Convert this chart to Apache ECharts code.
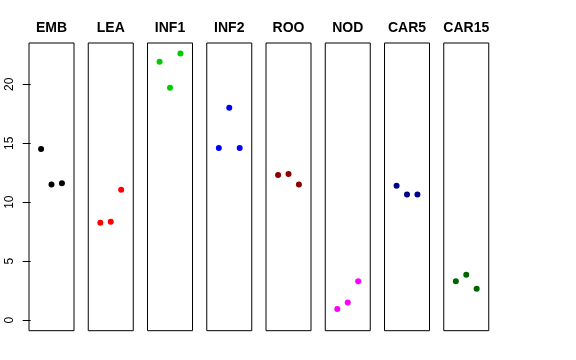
<!DOCTYPE html>
<html><head><meta charset="utf-8">
<script src="https://cdn.jsdelivr.net/npm/echarts@6/dist/echarts.min.js"></script>
<style>html,body{margin:0;padding:0;background:#fff}#c{width:576px;height:360px}</style>
</head><body><div id="c"></div>
<script>
const categories = ['EMB','LEA','INF1','INF2','ROO','NOD','CAR5','CAR15'];
const replicate = [1, 2, 3];
const EMB = [14.5, 11.5, 11.6];
const LEA = [8.25, 8.35, 11.05];
const INF1 = [21.9, 19.7, 22.6];
const INF2 = [14.6, 18.0, 14.6];
const ROO = [12.3, 12.4, 11.5];
const NOD = [0.95, 1.5, 3.3];
const CAR5 = [11.4, 10.65, 10.65];
const CAR15 = [3.3, 3.85, 2.65];
const yTicks = [0, 5, 10, 15, 20];
const colors = ['#000000','#FF0000','#00CD00','#0000FF','#8B0000','#FF00FF','#00008B','#006400'];
const seriesValues = [EMB, LEA, INF1, INF2, ROO, NOD, CAR5, CAR15];

const font = 'Liberation Sans, Arial, Helvetica, sans-serif';
const L0 = 29, STEP = 59.25, W = 45, TOP = 43, H = 287.7;
const grids = [], xAxes = [], yAxes = [], series = [], titles = [];
categories.forEach((name, i) => {
  const left = L0 + i * STEP;
  grids.push({left: left, top: TOP, width: W, height: H, show: true,
    borderColor: '#000', borderWidth: 1, backgroundColor: 'transparent', containLabel: false});
  xAxes.push({gridIndex: i, type: 'value', min: -0.16, max: 4.16, show: false});
  const first = i === 0;
  yAxes.push({gridIndex: i, type: 'value', min: -0.9, max: 23.5, show: first,
    splitLine: {show: false},
    axisLine: {show: false},
    axisTick: {show: first, length: 8, lineStyle: {color: '#000', width: 1}, customValues: yTicks},
    axisLabel: {show: first, rotate: 90, margin: 13, fontSize: 12, color: '#000', fontFamily: font,
      customValues: yTicks, formatter: v => String(v)}
  });
  series.push({type: 'scatter', xAxisIndex: i, yAxisIndex: i, symbol: 'circle', symbolSize: 6,
    itemStyle: {color: colors[i], opacity: 1}, silent: true, animation: false,
    data: replicate.map((r, k) => [r, seriesValues[i][k]])});
  titles.push({text: name, left: left + W / 2, top: 21, textAlign: 'center', padding: 0,
    textStyle: {fontSize: 14, fontWeight: 'bold', color: '#000', fontFamily: font}});
});
const chart = echarts.init(document.getElementById('c'), null, {renderer: 'canvas'});
chart.setOption({animation: false, backgroundColor: '#fff', title: titles,
  grid: grids, xAxis: xAxes, yAxis: yAxes, series: series});
</script></body></html>
